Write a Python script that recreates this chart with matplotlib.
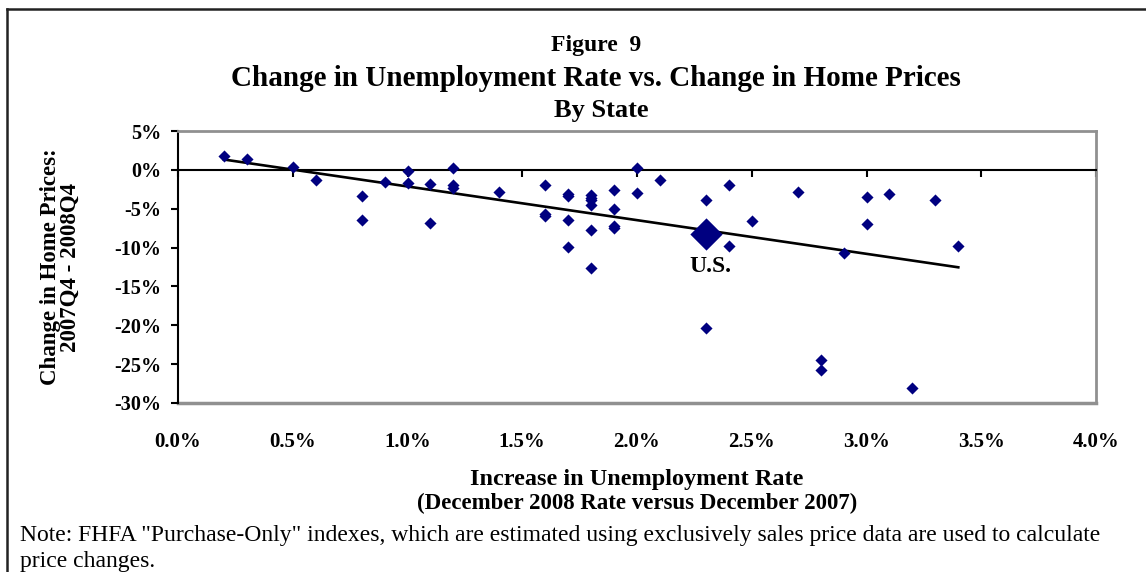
import numpy as np
import matplotlib.pyplot as plt
import matplotlib.ticker as mtick
from matplotlib.lines import Line2D

plt.rcParams["font.family"] = ["Liberation Serif", "DejaVu Serif"]
plt.rcParams["axes.unicode_minus"] = False

# increase in unemployment rate (pct points), change in home prices (%)
unemp_chg = [0.2, 0.3, 0.5, 0.6, 0.8, 0.8, 0.9, 1.0, 1.0, 1.1, 1.1,
             1.2, 1.2, 1.2, 1.4, 1.6, 1.6, 1.6, 1.7, 1.7, 1.7, 1.7,
             1.8, 1.8, 1.8, 1.8, 1.8, 1.8, 1.9, 1.9, 1.9, 1.9, 2.0, 2.0,
             2.1, 2.3, 2.3, 2.4, 2.4, 2.5, 2.7, 2.8, 2.8, 2.9, 3.0, 3.0,
             3.1, 3.2, 3.3, 3.4]
price_chg = [1.8, 1.4, 0.35, -1.3, -3.3, -6.4, -1.5, -0.2, -1.7, -1.8, -6.9,
             0.26, -2.0, -2.3, -2.8, -1.9, -5.7, -6.0, -3.1, -3.4, -6.5, -9.9,
             -3.2, -3.6, -3.9, -4.5, -7.7, -12.6, -2.6, -5.1, -7.2, -7.5, 0.26, -3.0,
             -1.3, -3.9, -20.4, -2.0, -9.8, -6.6, -2.9, -24.5, -25.7, -10.7, -3.5, -7.0,
             -3.1, -28.1, -3.9, -9.8]

us_unemp = 2.3
us_price = -8.2

navy = "#000080"

fig = plt.figure(figsize=(11.46, 5.72), dpi=100)
ax = fig.add_axes([178/1146, 1 - 403/572, 918/1146, 272/572])

ax.scatter(unemp_chg, price_chg, marker="D", s=38, color=navy, zorder=3, linewidths=0)
ax.scatter([us_unemp], [us_price], marker="D", s=270, color=navy, zorder=3, linewidths=0)

# linear trend through the states
slope, icpt = np.polyfit(unemp_chg, price_chg, 1)
xs = np.array([min(unemp_chg), max(unemp_chg)])
ax.plot(xs, icpt + slope * xs, color="black", lw=1.9, zorder=2)

ax.text(us_unemp + 0.02, us_price - 4.2, "U.S.", fontsize=17, fontweight="bold",
        ha="center", va="center")

ax.set_xlim(0, 4)
ax.set_ylim(-30, 5)
ax.set_yticks(np.arange(-30, 6, 5))
ax.set_xticks(np.arange(0, 4.01, 0.5))
ax.yaxis.set_major_formatter(mtick.PercentFormatter(xmax=100, decimals=0))

# x axis line crosses at 0, labels stay at the bottom
ax.spines["bottom"].set_position(("data", 0))
ax.spines["bottom"].set_linewidth(1.5)
ax.spines["left"].set_linewidth(1.5)
ax.spines["top"].set_color("#909090")
ax.spines["right"].set_color("#909090")
ax.spines["top"].set_linewidth(2)
ax.spines["right"].set_linewidth(2)
ax.tick_params(axis="x", direction="out", length=5, width=1.5, labelbottom=False)
ax.tick_params(axis="y", direction="out", length=5, width=1.5, labelsize=14.5, pad=7)
for lab in ax.get_yticklabels():
    lab.set_fontweight("bold")

sec = ax.secondary_xaxis(0)
sec.set_xticks(np.arange(0, 4.01, 0.5))
sec.xaxis.set_major_formatter(mtick.PercentFormatter(xmax=100, decimals=1))
sec.tick_params(length=0, labelsize=15, pad=21)
sec.spines["bottom"].set_color("#909090")
sec.spines["bottom"].set_linewidth(2.5)
for lab in sec.get_xticklabels():
    lab.set_fontweight("bold")

ax.set_ylabel("Change in Home Prices:\n2007Q4 - 2008Q4", fontsize=16.5,
              fontweight="bold", labelpad=24, linespacing=0.95)

fig.text(0.5 * (178 + 1096) / 1146, 1 - 480/572, "Increase in Unemployment Rate",
         ha="center", va="center", fontsize=17.5, fontweight="bold")
fig.text(0.5 * (178 + 1096) / 1146, 1 - 503/572, "(December 2008 Rate versus December 2007)",
         ha="center", va="center", fontsize=16.5, fontweight="bold")

fig.text(596/1146, 1 - 45/572, "Figure  9", ha="center", va="center",
         fontsize=17, fontweight="bold")
fig.text(596/1146, 1 - 78/572, "Change in Unemployment Rate vs. Change in Home Prices",
         ha="center", va="center", fontsize=21, fontweight="bold")
fig.text(601/1146, 1 - 111/572, "By State", ha="center", va="center",
         fontsize=19, fontweight="bold")

fig.text(20/1146, 1 - 536/572,
         'Note: FHFA "Purchase-Only" indexes, which are estimated using exclusively sales price data are used to calculate',
         ha="left", va="center", fontsize=17)
fig.text(20/1146, 1 - 561/572, "price changes.", ha="left", va="center", fontsize=17)

# outer frame (top and left edges)
fig.add_artist(Line2D([7/1146, 1], [1 - 9/572, 1 - 9/572], color="#222222", lw=1.8))
fig.add_artist(Line2D([7/1146, 7/1146], [0, 1 - 9/572], color="#222222", lw=1.8))

fig.savefig("out.png", dpi=100)
